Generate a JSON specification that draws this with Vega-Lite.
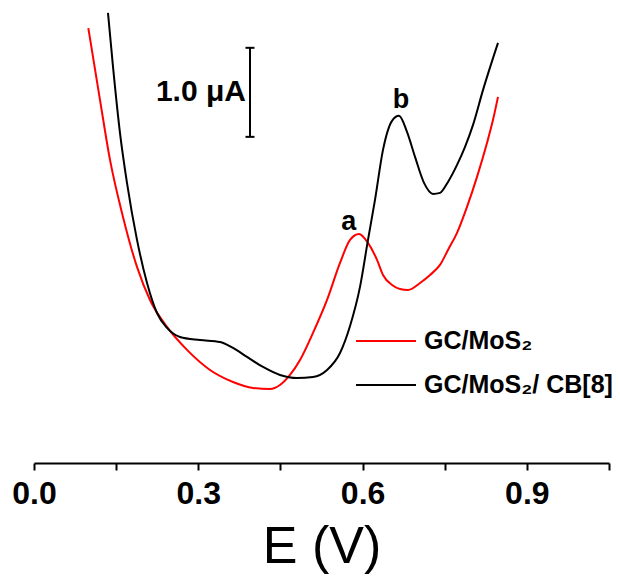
{
  "$schema": "https://vega.github.io/schema/vega-lite/v6.json",
  "width": 575,
  "height": 463,
  "autosize": "none",
  "padding": {"left": 34, "top": 0, "right": 11, "bottom": 114},
  "background": "white",
  "config": {"view": {"stroke": null}, "font": "Liberation Sans"},
  "datasets": {
    "curves": [
      {"s": "GC/MoS₂", "x": 0.0992, "y": 4.884},
      {"s": "GC/MoS₂", "x": 0.1205, "y": 4.079},
      {"s": "GC/MoS₂", "x": 0.1388, "y": 3.404},
      {"s": "GC/MoS₂", "x": 0.1625, "y": 2.764},
      {"s": "GC/MoS₂", "x": 0.1881, "y": 2.202},
      {"s": "GC/MoS₂", "x": 0.2118, "y": 1.831},
      {"s": "GC/MoS₂", "x": 0.2429, "y": 1.528},
      {"s": "GC/MoS₂", "x": 0.2794, "y": 1.270},
      {"s": "GC/MoS₂", "x": 0.3214, "y": 1.045},
      {"s": "GC/MoS₂", "x": 0.3634, "y": 0.910},
      {"s": "GC/MoS₂", "x": 0.3999, "y": 0.843},
      {"s": "GC/MoS₂", "x": 0.4310, "y": 0.831},
      {"s": "GC/MoS₂", "x": 0.4492, "y": 0.876},
      {"s": "GC/MoS₂", "x": 0.4675, "y": 0.989},
      {"s": "GC/MoS₂", "x": 0.4858, "y": 1.157},
      {"s": "GC/MoS₂", "x": 0.5095, "y": 1.461},
      {"s": "GC/MoS₂", "x": 0.5351, "y": 1.831},
      {"s": "GC/MoS₂", "x": 0.5588, "y": 2.247},
      {"s": "GC/MoS₂", "x": 0.5771, "y": 2.506},
      {"s": "GC/MoS₂", "x": 0.5935, "y": 2.573},
      {"s": "GC/MoS₂", "x": 0.6099, "y": 2.472},
      {"s": "GC/MoS₂", "x": 0.6264, "y": 2.281},
      {"s": "GC/MoS₂", "x": 0.6373, "y": 2.112},
      {"s": "GC/MoS₂", "x": 0.6538, "y": 2.000},
      {"s": "GC/MoS₂", "x": 0.6684, "y": 1.955},
      {"s": "GC/MoS₂", "x": 0.6830, "y": 1.944},
      {"s": "GC/MoS₂", "x": 0.7049, "y": 2.022},
      {"s": "GC/MoS₂", "x": 0.7232, "y": 2.112},
      {"s": "GC/MoS₂", "x": 0.7414, "y": 2.225},
      {"s": "GC/MoS₂", "x": 0.7560, "y": 2.393},
      {"s": "GC/MoS₂", "x": 0.7725, "y": 2.584},
      {"s": "GC/MoS₂", "x": 0.7907, "y": 2.876},
      {"s": "GC/MoS₂", "x": 0.8090, "y": 3.213},
      {"s": "GC/MoS₂", "x": 0.8273, "y": 3.596},
      {"s": "GC/MoS₂", "x": 0.8382, "y": 3.854},
      {"s": "GC/MoS₂", "x": 0.8473, "y": 4.112},
      {"s": "GC/MoS₂/ CB[8]", "x": 0.1351, "y": 5.056},
      {"s": "GC/MoS₂/ CB[8]", "x": 0.1443, "y": 4.449},
      {"s": "GC/MoS₂/ CB[8]", "x": 0.1570, "y": 3.708},
      {"s": "GC/MoS₂/ CB[8]", "x": 0.1698, "y": 3.146},
      {"s": "GC/MoS₂/ CB[8]", "x": 0.1881, "y": 2.506},
      {"s": "GC/MoS₂/ CB[8]", "x": 0.2064, "y": 2.022},
      {"s": "GC/MoS₂/ CB[8]", "x": 0.2246, "y": 1.685},
      {"s": "GC/MoS₂/ CB[8]", "x": 0.2429, "y": 1.517},
      {"s": "GC/MoS₂/ CB[8]", "x": 0.2666, "y": 1.416},
      {"s": "GC/MoS₂/ CB[8]", "x": 0.3031, "y": 1.382},
      {"s": "GC/MoS₂/ CB[8]", "x": 0.3397, "y": 1.360},
      {"s": "GC/MoS₂/ CB[8]", "x": 0.3634, "y": 1.292},
      {"s": "GC/MoS₂/ CB[8]", "x": 0.3890, "y": 1.191},
      {"s": "GC/MoS₂/ CB[8]", "x": 0.4182, "y": 1.079},
      {"s": "GC/MoS₂/ CB[8]", "x": 0.4492, "y": 0.989},
      {"s": "GC/MoS₂/ CB[8]", "x": 0.4803, "y": 0.955},
      {"s": "GC/MoS₂/ CB[8]", "x": 0.5095, "y": 0.966},
      {"s": "GC/MoS₂/ CB[8]", "x": 0.5351, "y": 1.045},
      {"s": "GC/MoS₂/ CB[8]", "x": 0.5588, "y": 1.236},
      {"s": "GC/MoS₂/ CB[8]", "x": 0.5771, "y": 1.539},
      {"s": "GC/MoS₂/ CB[8]", "x": 0.5953, "y": 1.978},
      {"s": "GC/MoS₂/ CB[8]", "x": 0.6099, "y": 2.506},
      {"s": "GC/MoS₂/ CB[8]", "x": 0.6227, "y": 2.955},
      {"s": "GC/MoS₂/ CB[8]", "x": 0.6373, "y": 3.517},
      {"s": "GC/MoS₂/ CB[8]", "x": 0.6538, "y": 3.843},
      {"s": "GC/MoS₂/ CB[8]", "x": 0.6665, "y": 3.899},
      {"s": "GC/MoS₂/ CB[8]", "x": 0.6811, "y": 3.719},
      {"s": "GC/MoS₂/ CB[8]", "x": 0.6958, "y": 3.438},
      {"s": "GC/MoS₂/ CB[8]", "x": 0.7122, "y": 3.146},
      {"s": "GC/MoS₂/ CB[8]", "x": 0.7286, "y": 3.022},
      {"s": "GC/MoS₂/ CB[8]", "x": 0.7414, "y": 3.034},
      {"s": "GC/MoS₂/ CB[8]", "x": 0.7560, "y": 3.157},
      {"s": "GC/MoS₂/ CB[8]", "x": 0.7725, "y": 3.348},
      {"s": "GC/MoS₂/ CB[8]", "x": 0.7871, "y": 3.551},
      {"s": "GC/MoS₂/ CB[8]", "x": 0.8017, "y": 3.798},
      {"s": "GC/MoS₂/ CB[8]", "x": 0.8200, "y": 4.191},
      {"s": "GC/MoS₂/ CB[8]", "x": 0.8473, "y": 4.719}
    ],
    "peaks": [
      {"x": 0.575, "y": 2.708, "t": "a"},
      {"x": 0.670, "y": 4.079, "t": "b"}
    ],
    "scalebar": [
      {"x": 0.3944, "y": 3.663, "y2": 4.663, "t": "1.0 μA"}
    ]
  },
  "layer": [
    {
      "data": {"name": "curves"},
      "mark": {"type": "line", "strokeWidth": 2, "interpolate": "monotone"},
      "encoding": {
        "x": {
          "field": "x", "type": "quantitative",
          "scale": {"domain": [0, 1.05], "nice": false, "zero": false},
          "axis": {
            "values": [0, 0.15, 0.3, 0.45, 0.6, 0.75, 0.9, 1.05],
            "labelExpr": "round(datum.value*100) % 30 == 0 ? format(datum.value, '.1f') : ''",
            "grid": false,
            "domainColor": "black", "domainWidth": 2,
            "tickColor": "black", "tickWidth": 2, "tickSize": 7,
            "labelFontSize": 32, "labelFontWeight": "bold", "labelColor": "black",
            "labelFont": "Liberation Sans",
            "labelPadding": 8, "labelFlush": false, "labelOverlap": false,
            "title": "E (V)", "titleFontSize": 52, "titleFontWeight": "normal",
            "titleColor": "black", "titleFont": "Liberation Sans", "titlePadding": 12
          }
        },
        "y": {
          "field": "y", "type": "quantitative",
          "scale": {"domain": [0, 5.2], "nice": false, "zero": false},
          "axis": null
        },
        "color": {
          "field": "s", "type": "nominal",
          "scale": {"domain": ["GC/MoS₂", "GC/MoS₂/ CB[8]"], "range": ["#ff0000", "#000000"]},
          "legend": {
            "orient": "none", "legendX": 321, "legendY": 310,
            "title": null, "padding": 0,
            "symbolType": "stroke", "symbolSize": 3600, "symbolStrokeWidth": 2,
            "labelFontSize": 25, "labelFontWeight": "bold", "labelColor": "black",
            "labelFont": "Liberation Sans", "labelOffset": 7, "labelLimit": 0, "rowPadding": -9
          }
        }
      }
    },
    {
      "data": {"name": "scalebar"},
      "mark": {"type": "rule", "strokeWidth": 2, "color": "black"},
      "encoding": {
        "x": {"field": "x", "type": "quantitative"},
        "y": {"field": "y", "type": "quantitative"},
        "y2": {"field": "y2"}
      }
    },
    {
      "data": {"name": "scalebar"},
      "mark": {"type": "tick", "orient": "horizontal", "size": 9, "thickness": 2, "color": "black", "opacity": 1},
      "encoding": {
        "x": {"field": "x", "type": "quantitative"},
        "y": {"field": "y", "type": "quantitative"}
      }
    },
    {
      "data": {"name": "scalebar"},
      "mark": {"type": "tick", "orient": "horizontal", "size": 9, "thickness": 2, "color": "black", "opacity": 1},
      "encoding": {
        "x": {"field": "x", "type": "quantitative"},
        "y": {"field": "y2", "type": "quantitative"}
      }
    },
    {
      "data": {"name": "scalebar"},
      "transform": [{"calculate": "(datum.y + datum.y2) / 2", "as": "ym"}],
      "mark": {"type": "text", "align": "right", "baseline": "middle", "dx": -4, "fontSize": 30, "fontWeight": "bold", "font": "Liberation Sans", "color": "black"},
      "encoding": {
        "x": {"field": "x", "type": "quantitative"},
        "y": {"field": "ym", "type": "quantitative"},
        "text": {"field": "t"}
      }
    },
    {
      "data": {"name": "peaks"},
      "mark": {"type": "text", "align": "center", "baseline": "middle", "fontSize": 27, "fontWeight": "bold", "font": "Liberation Sans", "color": "black"},
      "encoding": {
        "x": {"field": "x", "type": "quantitative"},
        "y": {"field": "y", "type": "quantitative"},
        "text": {"field": "t"}
      }
    }
  ]
}
